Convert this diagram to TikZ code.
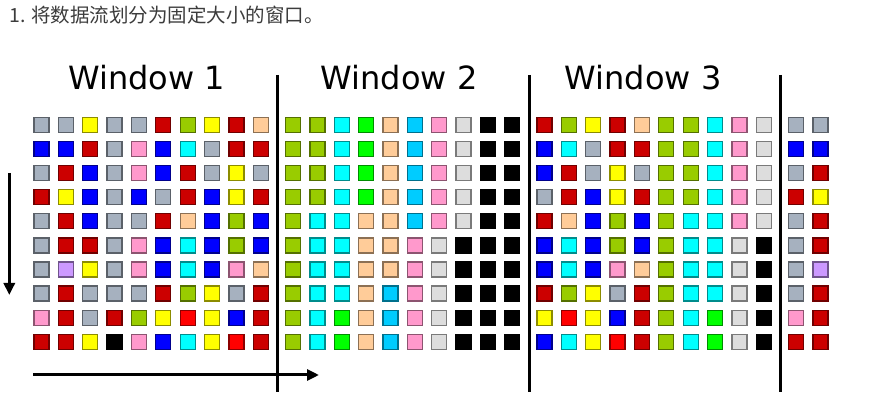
\documentclass[tikz,border=0pt]{standalone}
\usepackage{fontspec}
\setmainfont{DejaVu Sans}
\newfontfamily\cjkfont{Noto Sans CJK SC}
\usetikzlibrary{arrows.meta}
\definecolor{colg}{RGB}{166,177,191}
\definecolor{coly}{RGB}{255,255,0}
\definecolor{colr}{RGB}{204,0,0}
\definecolor{colR}{RGB}{255,0,0}
\definecolor{coll}{RGB}{153,204,0}
\definecolor{colP}{RGB}{255,204,153}
\definecolor{colb}{RGB}{0,0,255}
\definecolor{colc}{RGB}{0,255,255}
\definecolor{colk}{RGB}{255,153,204}
\definecolor{colv}{RGB}{204,153,255}
\definecolor{colK}{RGB}{0,0,0}
\definecolor{colG}{RGB}{0,255,0}
\definecolor{cols}{RGB}{0,204,255}
\definecolor{colw}{RGB}{221,221,221}
\definecolor{titlegray}{RGB}{60,60,60}
\tikzset{
  sq/.style={rectangle, minimum size=15pt, inner sep=0pt, line width=1.3pt},
  q/.style={sq, fill=col#1, draw=col#1!55!black},
  divider/.style={line width=3pt, black},
  flow/.style={line width=3pt, black, -{Triangle[length=12pt,width=11pt]}},
  wlabel/.style={anchor=base, inner sep=0pt, font=\fontsize{32}{36}\selectfont, text=black},
  title/.style={anchor=base west, inner sep=0pt, font=\cjkfont\fontsize{19.5}{23}\selectfont, text=titlegray}
}
\begin{document}
\begin{tikzpicture}[x=1pt,y=-1pt]
\useasboundingbox (0,0) rectangle (873,411);
\node[title] (t) at (9,23) {1. 将数据流划分为固定大小的窗口。};
\node[wlabel] (w1) at (146.5,90) {Window 1};
\node[wlabel] (w2) at (399,90) {Window 2};
\node[wlabel] (w3) at (643,90) {Window 3};
\foreach \row [count=\j] in {
 {g,g,y,g,g,r,l,y,r,P, l,l,c,G,P,s,k,w,K,K, r,l,y,r,P,l,l,c,k,w, g,g},
 {b,b,r,g,k,b,c,g,r,r, l,l,c,G,P,s,k,w,K,K, b,c,g,r,r,l,l,c,k,w, b,b},
 {g,r,b,g,k,b,r,g,y,g, l,l,c,G,P,s,k,w,K,K, b,r,g,y,g,l,l,c,k,w, g,r},
 {r,y,b,g,b,g,r,b,y,r, l,l,c,G,P,s,k,w,K,K, g,r,b,y,r,l,l,c,k,w, r,y},
 {g,r,b,g,g,r,P,b,l,b, l,c,c,P,P,s,k,w,K,K, r,P,b,l,b,l,c,c,k,w, g,r},
 {g,r,r,g,k,b,c,b,l,b, l,c,c,P,P,k,w,K,K,K, b,c,b,l,b,l,c,c,w,K, g,r},
 {g,v,y,g,k,b,c,b,k,P, l,c,c,P,P,k,w,K,K,K, b,c,b,k,P,l,c,c,w,K, g,v},
 {g,r,g,g,g,r,l,y,g,r, l,c,c,P,s,k,w,K,K,K, r,l,y,g,r,l,c,c,w,K, g,r},
 {k,r,g,r,l,y,R,y,b,r, l,c,G,P,s,k,w,K,K,K, y,R,y,b,r,l,c,G,w,K, k,r},
 {r,r,y,K,k,b,c,y,R,r, l,c,G,P,s,k,w,K,K,K, b,c,y,R,r,l,c,G,w,K, r,r}} {
  \foreach \cc [count=\i] in \row {
    \pgfmathsetmacro\xx{41.55+(\i-1)*24.35+int((\i-1)/10)*8}
    \pgfmathsetmacro\yy{124.95+(\j-1)*24.1}
    \node[q=\cc] (s-\j-\i) at (\xx,\yy) {};
  }
}
\coordinate (d1t) at (277,75);  \coordinate (d1b) at (277,392);
\coordinate (d2t) at (529,75);  \coordinate (d2b) at (529,392);
\coordinate (d3t) at (780,75);  \coordinate (d3b) at (780,392);
\draw[divider] (d1t) -- (d1b);
\draw[divider] (d2t) -- (d2b);
\draw[divider] (d3t) -- (d3b);
\coordinate (va) at (9.3,173);  \coordinate (vb) at (9.3,295);
\coordinate (ha) at (33,375);   \coordinate (hb) at (319,375);
\draw[flow] (va) -- (vb);
\draw[flow] (ha) -- (hb);
\end{tikzpicture}
\end{document}
